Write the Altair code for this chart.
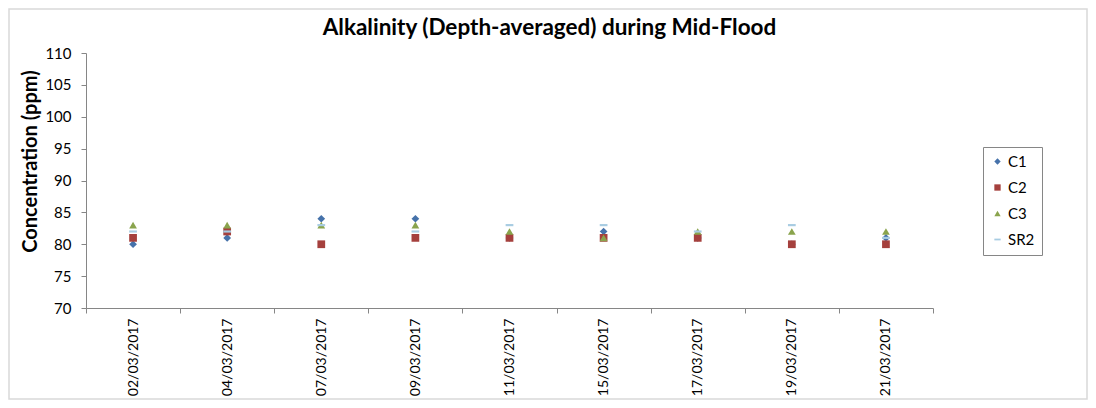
import altair as alt
import pandas as pd

dates = ["02/03/2017", "04/03/2017", "07/03/2017", "09/03/2017", "11/03/2017",
         "15/03/2017", "17/03/2017", "19/03/2017", "21/03/2017"]
series_names = ["C1", "C2", "C3", "SR2"]
c1 = [80, 81, 84, 84, 81, 82, 81, 80, 81]
c2 = [81, 82, 80, 81, 81, 81, 81, 80, 80]
c3 = [83, 83, 83, 83, 82, 81, 82, 82, 82]
sr2 = [82, 82, 83, 82, 83, 83, 82, 83, 81]
colors = ["#4672AA", "#A5403D", "#8AA44D", "#A8CCE2"]
shapes = ["diamond", "square", "triangle-up", "M-1,-0.28H1V0.28H-1Z"]

rows = []
for name, vals in zip(series_names, [c1, c2, c3, sr2]):
    for d, v in zip(dates, vals):
        rows.append({"Date": d, "Series": name, "Value": v})
df = pd.DataFrame(rows)

W, H = 847, 255
PL, PT, PR, PB = 78, 45, 155, 92
FONT = "Lato"

legend_cfg = dict(title=None, orient="none", legendX=897, legendY=94,
                  strokeColor="#868686", padding=7, labelOffset=3,
                  labelFontSize=15, labelFont=FONT, labelColor="#000000",
                  rowPadding=10, symbolSize=40, symbolStrokeWidth=0)

points = alt.Chart(df).mark_point(filled=True, size=60, opacity=1).encode(
    x=alt.X("Date:N", sort=dates,
            scale=alt.Scale(type="band", paddingInner=0, paddingOuter=0),
            axis=alt.Axis(title=None, labelAngle=-90, labelAlign="right",
                          labelBaseline="middle", labelPadding=5, tickBand="extent",
                          tickSize=5, labelFontSize=14, labelColor="#000000",
                          domainColor="#868686", tickColor="#868686", grid=False,
                          labelFont=FONT)),
    y=alt.Y("Value:Q", scale=alt.Scale(domain=[70, 110], nice=False, zero=False),
            axis=alt.Axis(title="Concentration (ppm)", values=list(range(70, 111, 5)),
                          tickSize=5, labelPadding=10, labelFontSize=15,
                          labelColor="#000000", domainColor="#868686",
                          tickColor="#868686", grid=False, labelFont=FONT,
                          titleFont=FONT, titleFontSize=20, titleFontWeight="bold",
                          titleColor="#000000", titleX=-56, titleY=108,
                          titleAlign="center", titleBaseline="middle", titleAngle=270)),
    color=alt.Color("Series:N", sort=series_names,
                    scale=alt.Scale(domain=series_names, range=colors),
                    legend=alt.Legend(**legend_cfg)),
    shape=alt.Shape("Series:N", sort=series_names,
                    scale=alt.Scale(domain=series_names, range=shapes),
                    legend=alt.Legend(**legend_cfg)),
    order=alt.Order("order:Q"),
).transform_calculate(order="indexof(['C1','C2','C3','SR2'], datum.Series)")

frame = alt.Chart(pd.DataFrame({"a": [0]})).mark_rect(
    fill=None, stroke="#D9D9D9", strokeWidth=1.5
).encode(
    x=alt.value(-PL + 1), x2=alt.value(W + PR - 1),
    y=alt.value(-PT + 1), y2=alt.value(H + PB - 1),
)

chart = alt.layer(frame, points).properties(
    width=W, height=H,
    autosize=alt.AutoSizeParams(type="none"),
    padding={"left": PL, "top": PT, "right": PR, "bottom": PB},
    title=alt.Title("Alkalinity (Depth-averaged) during Mid-Flood", font=FONT,
                    fontSize=22.5, fontWeight="bold", color="#000000",
                    anchor="middle", dx=40, dy=45, offset=14),
).configure_view(stroke=None)

chart.save("out.html", embed_options={"renderer": "svg", "actions": False})
